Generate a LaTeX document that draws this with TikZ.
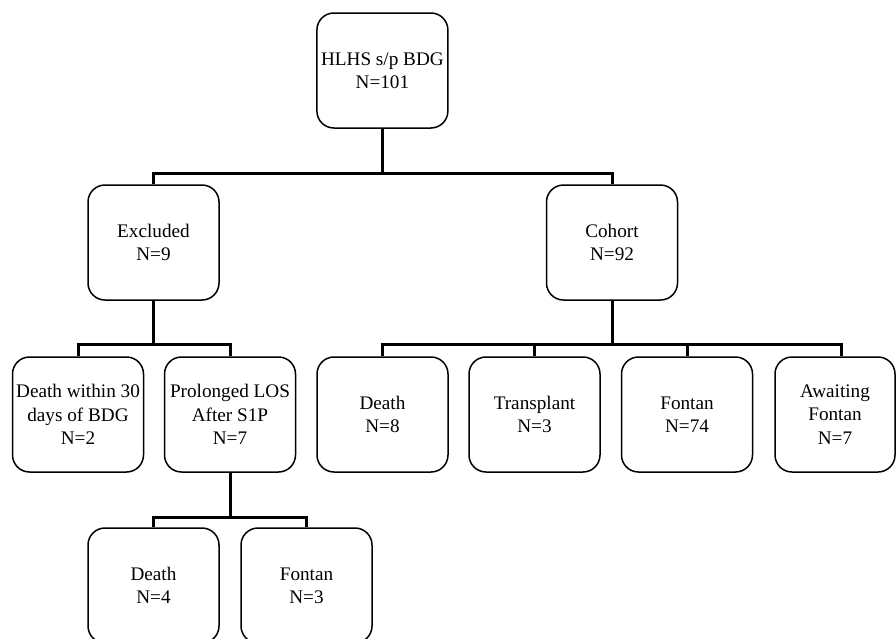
\documentclass[tikz,border=0pt]{standalone}
\usepackage{fontspec}
\setmainfont{Liberation Serif}
\usetikzlibrary{calc}
\begin{document}
\begin{tikzpicture}[x=1pt,y=-1pt,
  box/.style={draw=black, line width=1.5pt, rounded corners=17pt, minimum width=131pt, minimum height=115pt,
    inner sep=0pt, align=center, font=\fontsize{19.2}{23.3}\selectfont},
  conn/.style={draw=black, line width=3pt, line join=miter}]
\useasboundingbox (0,0) rectangle (896,638);
\clip (0,0) rectangle (896,638);
\node[box] (top) at (382.4,70.5) {HLHS s/p BDG\\N=101};
\node[box] (exc) at (153.5,242.5) {Excluded\\N=9};
\node[box] (coh) at (612,242.5) {Cohort\\N=92};
\node[box] (d30) at (78,414.5) {Death within 30\\days of BDG\\N=2};
\node[box] (plos) at (230,414.5) {Prolonged LOS\\After S1P\\N=7};
\node[box] (dth8) at (382.5,414.5) {Death\\N=8};
\node[box] (tx) at (534.5,414.5) {Transplant\\N=3};
\node[box] (fon74) at (687,414.5) {Fontan\\N=74};
\node[box, minimum width=120pt] (await) at (835,414.5) {Awaiting\\Fontan\\N=7};
\node[box] (dth4) at (153.5,585.5) {Death\\N=4};
\node[box] (fon3) at (306.5,585.5) {Fontan\\N=3};
\coordinate (bus1) at (0,173);
\coordinate (bus2) at (0,344);
\coordinate (bus3) at (0,517);
\coordinate (awtop) at ($(await.north)+(6,0)$);
% level 1
\draw[conn] (top.south) -- (top.south |- bus1);
\draw[conn] (exc.north) |- (coh.north |- bus1) -- (coh.north);
% excluded children
\draw[conn] (exc.south) -- (exc.south |- bus2);
\draw[conn] (d30.north) |- (plos.north |- bus2) -- (plos.north);
% cohort children
\draw[conn] (coh.south) -- (coh.south |- bus2);
\draw[conn] (dth8.north) |- (awtop |- bus2) -- (awtop);
\draw[conn] (tx.north) -- (tx.north |- bus2);
\draw[conn] (fon74.north) -- (fon74.north |- bus2);
% prolonged children
\draw[conn] (plos.south) -- (plos.south |- bus3);
\draw[conn] (dth4.north) |- (fon3.north |- bus3) -- (fon3.north);
\end{tikzpicture}
\end{document}
